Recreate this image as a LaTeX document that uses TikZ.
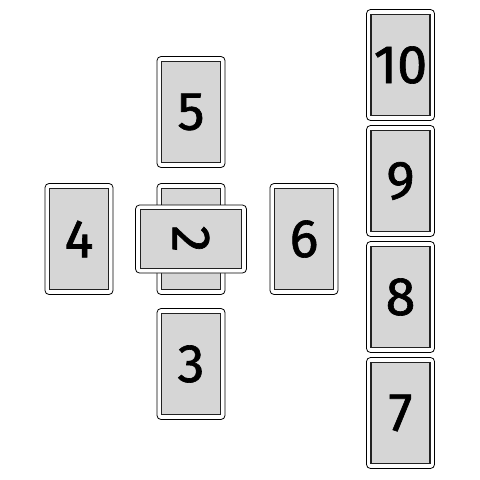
\documentclass[tikz,border=0pt]{standalone}
\usepackage{fontspec}
\setmainfont{Fira Sans}[FakeBold=1.2]
\definecolor{cardgray}{HTML}{D6D6D6}
\definecolor{edge}{HTML}{222222}
\tikzset{
  outercard/.style={draw=black, line width=0.8pt, fill=white, rounded corners=4pt,
    minimum width=68pt, minimum height=111pt, inner sep=0pt},
  innercard/.style={draw=edge, line width=1.8pt, fill=cardgray,
    minimum width=59pt, minimum height=101pt, inner sep=0pt,
    font=\fontsize{54}{54}\selectfont},
}
\begin{document}
\begin{tikzpicture}[x=1pt,y=-1pt]
\useasboundingbox (0,0) rectangle (480,480);
% cross
\node[outercard] (o5) at (191,112) {};
\node[innercard] (c5) at (191,112) {5};
\node[outercard] (o4) at (79,239) {};
\node[innercard] (c4) at (79,239) {4};
\node[outercard] (o1) at (191,239) {};
\node[innercard] (c1) at (191,239) {};
\node[outercard, rotate=-90] (o2) at (191,239) {};
\node[innercard, rotate=-90] (c2) at (191,239) {2};
\node[outercard] (o6) at (304,239) {};
\node[innercard] (c6) at (304,239) {6};
\node[outercard] (o3) at (191,364) {};
\node[innercard] (c3) at (191,364) {3};
% staff
\node[outercard] (o10) at (400.5,65) {};
\node[innercard] (c10) at (400.5,65) {10};
\node[outercard] (o9) at (400.5,181) {};
\node[innercard] (c9) at (400.5,181) {9};
\node[outercard] (o8) at (400.5,297) {};
\node[innercard] (c8) at (400.5,297) {8};
\node[outercard] (o7) at (400.5,413) {};
\node[innercard] (c7) at (400.5,413) {7};
\end{tikzpicture}
\end{document}
